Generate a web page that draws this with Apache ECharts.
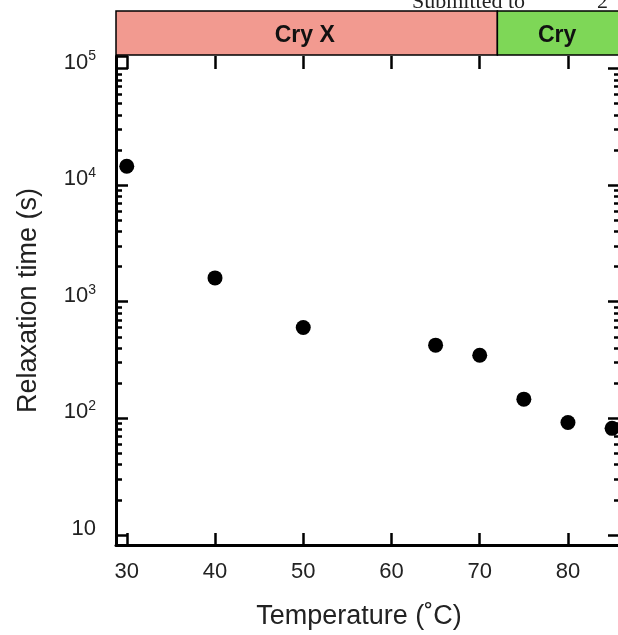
<!DOCTYPE html>
<html><head><meta charset="utf-8">
<script src="https://cdn.jsdelivr.net/npm/echarts@6/dist/echarts.min.js"></script>
<style>html,body{margin:0;padding:0;background:#fff}#c{width:618px;height:635px}</style>
</head><body><div id="c"></div>
<script>
// ---- data ----
const temperatures = [30, 40, 50, 65, 70, 75, 80, 85];
const relaxationTimes = [14500, 1600, 600, 424, 347, 146, 92, 82];
const xTickValues = [30, 40, 50, 60, 70, 80];
const yTickValues = [10, 100, 1000, 10000, 100000];
const yMinorMultipliers = [2, 3, 4, 5, 6, 7, 8, 9];
const phaseNames = ['Cry X', 'Cry'];
const phaseStarts = [28.78, 72];
const phaseEnds = [72, 86];
const phaseColors = ['#F29A90', '#7ED757'];
const xTitle = 'Temperature (\u02DAC)';
const yTitle = 'Relaxation time (s)';
const headerText = 'Submitted to';
const headerText2 = '2';

// ---- ranges ----
const xMin = 28.78, xMax = 85.67;
const yMin = 8.19, yMax = 128000;

// minor tick positions on the log axis (10..1e5 decades)
const yMinorValues = [];
yTickValues.slice(0, -1).forEach(d => yMinorMultipliers.forEach(m => yMinorValues.push(d * m)));
const yMajorWithEnds = yTickValues.concat([yMax]);

const FONT = '"Liberation Sans", Arial, sans-serif';
const chart = echarts.init(document.getElementById('c'), null, {renderer: 'canvas'});

function powLabel(v) {
  const e = Math.log10(v);
  const r = Math.round(e);
  if (Math.abs(e - r) > 1e-6) return '';
  if (r === 1) return '{b|10}';
  return '{b|10}{s|' + r + '}';
}

const phaseData = phaseNames.map((n, i) => [phaseStarts[i], phaseEnds[i], n, phaseColors[i]]);
const scatterData = temperatures.map((t, i) => [t, relaxationTimes[i]]);

function logAxis(extra) {
  return Object.assign({
    type: 'log', logBase: 10, gridIndex: 0, min: yMin, max: yMax,
    axisLine: {show: false}, axisLabel: {show: false},
    splitLine: {show: false}, minorTick: {show: false}, minorSplitLine: {show: false}
  }, extra);
}

const option = {
  backgroundColor: '#fff',
  animation: false,
  title: [
    {text: headerText, left: 407, top: -14,
     textStyle: {fontFamily: '"Liberation Serif", "DejaVu Serif", serif', fontSize: 22, fontWeight: 'normal', color: '#222'}},
    {text: headerText2, left: 592, top: -14,
     textStyle: {fontFamily: '"Liberation Serif", "DejaVu Serif", serif', fontSize: 22, fontWeight: 'normal', color: '#222'}}
  ],
  grid: [
    {left: 116, right: 0, top: 56, bottom: 90, containLabel: false, outerBoundsMode: 'none'},
    {left: 116, right: 0, top: 11, height: 44, containLabel: false, outerBoundsMode: 'none'}
  ],
  xAxis: [
    {
      type: 'value', gridIndex: 0, position: 'bottom', min: xMin, max: xMax,
      name: xTitle, nameLocation: 'middle', nameGap: 58,
      nameTextStyle: {fontFamily: FONT, fontSize: 27, color: '#222', padding: [0, 16, 0, 0]},
      axisLine: {show: true, onZero: false, lineStyle: {color: '#000', width: 3}},
      axisTick: {show: true, inside: true, length: 12, lineStyle: {color: '#000', width: 2.5}, customValues: xTickValues},
      axisLabel: {show: true, margin: 16, fontFamily: FONT, fontSize: 22, color: '#222', customValues: xTickValues},
      splitLine: {show: false}
    },
    {
      type: 'value', gridIndex: 0, position: 'top', min: xMin, max: xMax,
      axisLine: {show: false},
      axisTick: {show: true, inside: true, length: 13, lineStyle: {color: '#000', width: 2.5}, customValues: xTickValues},
      axisLabel: {show: false},
      splitLine: {show: false}
    },
    {
      type: 'value', gridIndex: 1, min: xMin, max: xMax, show: false
    }
  ],
  yAxis: [
    {
      type: 'log', logBase: 10, gridIndex: 0, position: 'left', min: yMin, max: yMax,
      name: yTitle, nameLocation: 'middle', nameGap: 74, nameRotate: 90,
      nameTextStyle: {fontFamily: FONT, fontSize: 27, color: '#222'},
      axisLine: {show: true, lineStyle: {color: '#000', width: 3}},
      axisTick: {show: true, inside: true, length: 12, lineStyle: {color: '#000', width: 2.5}, customValues: yMajorWithEnds},
      minorTick: {show: false},
      axisLabel: {
        show: true, margin: 20, formatter: powLabel, padding: [0, 0, 12, 0], customValues: yTickValues,
        rich: {
          b: {fontFamily: FONT, fontSize: 22, color: '#222', lineHeight: 26},
          s: {fontFamily: FONT, fontSize: 14, color: '#222', verticalAlign: 'top', lineHeight: 26, padding: [0, 0, 10, 0]}
        }
      },
      splitLine: {show: false}, minorSplitLine: {show: false}
    },
    logAxis({position: 'left',
      axisTick: {show: true, inside: true, length: 6, lineStyle: {color: '#000', width: 2.5}, customValues: yMinorValues}}),
    logAxis({position: 'right',
      axisTick: {show: true, inside: true, length: 10, lineStyle: {color: '#000', width: 2.5}, customValues: yTickValues}}),
    logAxis({position: 'right',
      axisTick: {show: true, inside: true, length: 4, lineStyle: {color: '#000', width: 2.5}, customValues: yMinorValues}}),
    {
      type: 'value', gridIndex: 1, min: 0, max: 1, show: false
    }
  ],
  series: [
    {
      type: 'custom', xAxisIndex: 2, yAxisIndex: 4, clip: false,
      data: phaseData,
      renderItem: function (params, api) {
        const p0 = api.coord([api.value(0), 0]);
        const p1 = api.coord([api.value(1), 1]);
        const d = phaseData[params.dataIndex];
        return {
          type: 'group',
          children: [
            {type: 'rect', shape: {x: p0[0], y: p1[1], width: p1[0] - p0[0], height: p0[1] - p1[1]},
             style: {fill: d[3], stroke: '#000', lineWidth: 1.5}},
            {type: 'text', style: {text: d[2], x: (p0[0] + p1[0]) / 2 - 2, y: (p0[1] + p1[1]) / 2 + 3,
             align: 'center', verticalAlign: 'middle', fontFamily: FONT, fontWeight: 'bold', fontSize: 23, fill: '#111'}}
          ]
        };
      }
    },
    {
      type: 'scatter', xAxisIndex: 0, yAxisIndex: 0,
      symbol: 'circle', symbolSize: 15,
      itemStyle: {color: '#000', opacity: 1},
      data: scatterData, z: 1
    }
  ]
};
chart.setOption(option);
</script>
</body></html>
